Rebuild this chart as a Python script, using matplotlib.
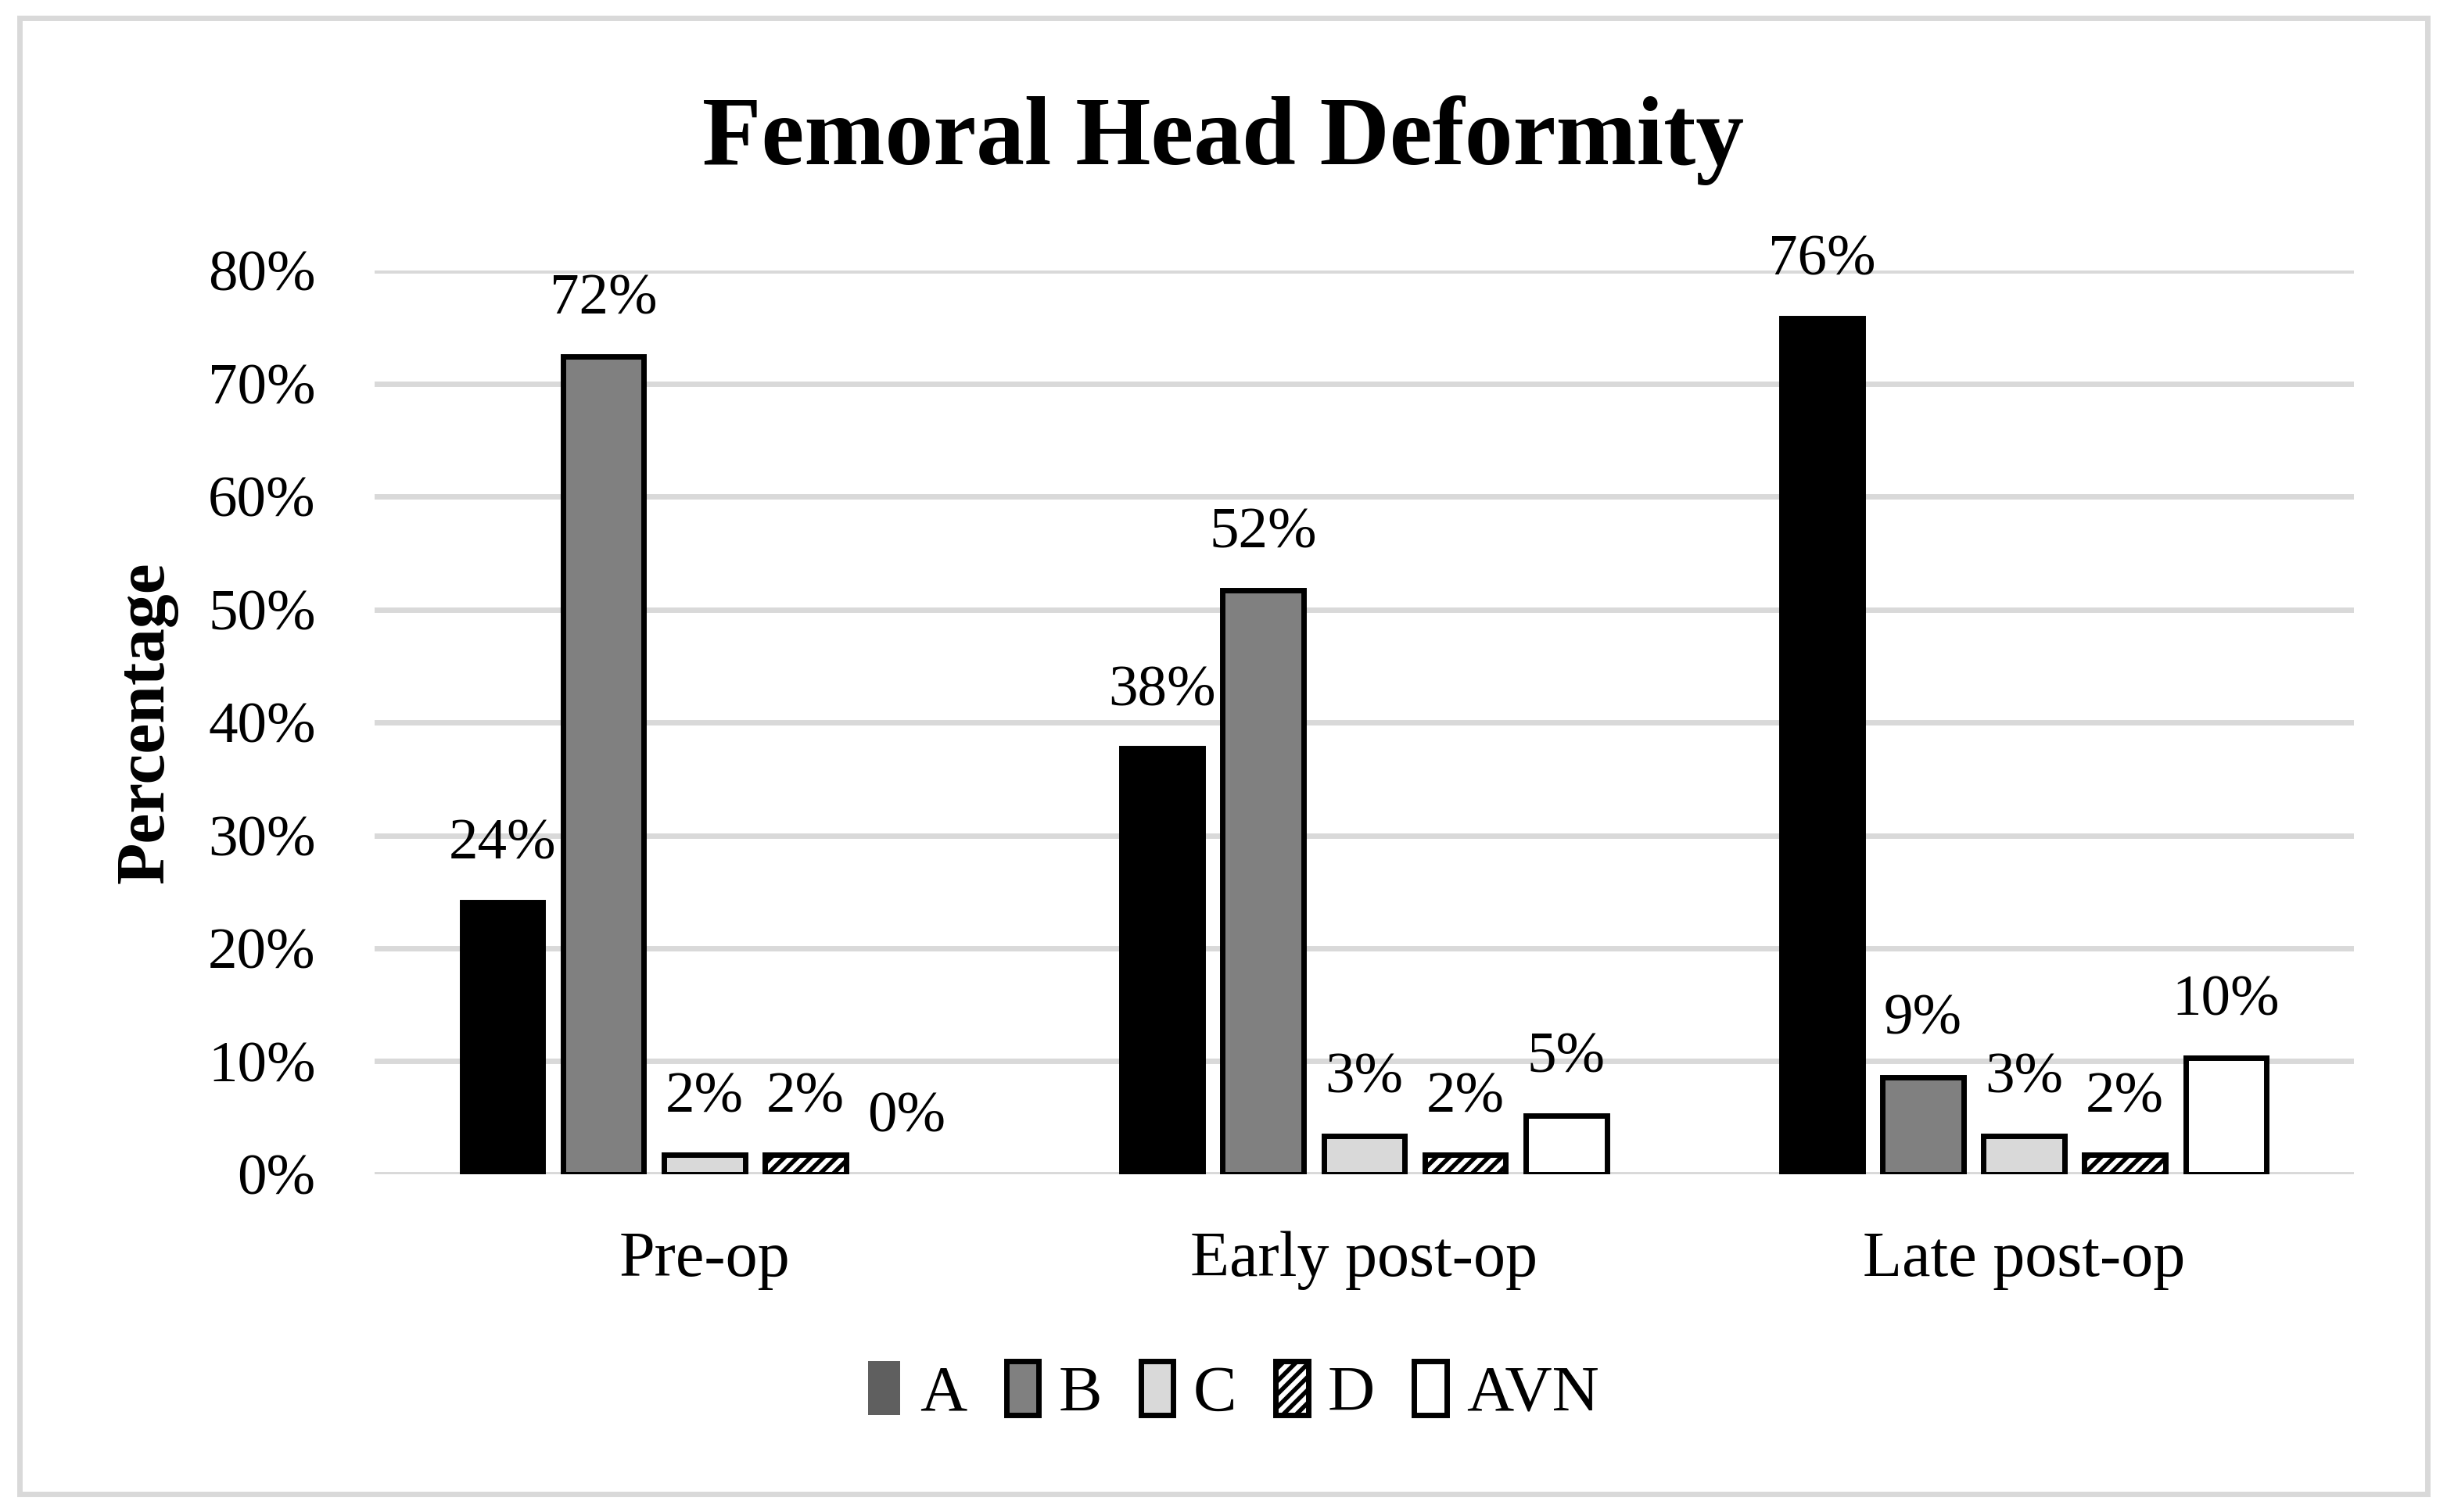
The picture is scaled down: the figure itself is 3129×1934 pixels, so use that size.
import matplotlib
matplotlib.use('Agg')
import matplotlib.pyplot as plt
from matplotlib.patches import Patch, Rectangle
import numpy as np

plt.rcParams['font.family'] = ['Liberation Serif', 'DejaVu Serif']
plt.rcParams['hatch.linewidth'] = 2.0

categories = ['Pre-op', 'Early post-op', 'Late post-op']
series = ['A', 'B', 'C', 'D', 'AVN']
vals_a = [24.1, 37.7, 75.8]
vals_b = [72.4, 51.7, 8.6]
vals_c = [1.7, 3.4, 3.4]
vals_d = [1.7, 1.7, 1.7]
vals_avn = [0.0, 5.2, 10.3]
labels_a = ['24%', '38%', '76%']
labels_b = ['72%', '52%', '9%']
labels_c = ['2%', '3%', '3%']
labels_d = ['2%', '2%', '2%']
labels_avn = ['0%', '5%', '10%']
y_ticks = [0, 10, 20, 30, 40, 50, 60, 70, 80]

all_vals = [vals_a, vals_b, vals_c, vals_d, vals_avn]
all_labels = [labels_a, labels_b, labels_c, labels_d, labels_avn]
faces = ['#000000', '#808080', '#d9d9d9', '#ffffff', '#ffffff']
hatches = [None, None, None, '////', None]
legend_faces = ['#5f5f5f', '#808080', '#d9d9d9', '#ffffff', '#ffffff']

fig = plt.figure(figsize=(15.645, 9.67), dpi=200)
ax = fig.add_axes([0.153, 0.2234, 0.809, 0.5976])

x = np.arange(len(categories))
width = 0.123
pitch = 0.153
for k in range(len(series)):
    pos = x + (k - 2) * pitch
    bars = ax.bar(pos, all_vals[k], width, color=faces[k], edgecolor='black',
                  linewidth=2.5, hatch=hatches[k], zorder=3)
    for b, lab in zip(bars, all_labels[k]):
        if b.get_height() == 0:
            b.set_visible(False)
        ax.annotate(lab, (b.get_x() + b.get_width() / 2, b.get_height()),
                    xytext=(0, 14), textcoords='offset points',
                    ha='center', va='bottom', fontsize=27)

ax.set_xlim(-0.5, 2.5)
ax.set_ylim(0, 80)
ax.set_yticks(y_ticks)
ax.set_yticklabels([f'{t}%' for t in y_ticks], fontsize=27)
ax.set_xticks(x)
ax.set_xticklabels(categories, fontsize=29.5)
ax.tick_params(axis='both', length=0)
ax.tick_params(axis='y', pad=27)
ax.tick_params(axis='x', pad=26)
ax.yaxis.grid(True, color='#d9d9d9', linewidth=2.5, zorder=0)
ax.set_axisbelow(True)
for s in ax.spines.values():
    s.set_visible(False)
ax.set_ylabel('Percentage', fontsize=31.5, fontweight='bold', labelpad=14)

fig.text(0.5, 0.907, 'Femoral Head Deformity', ha='center', va='center',
         fontsize=44.5, fontweight='bold')

handles = []
for k in range(len(series)):
    ec = 'none' if k == 0 else 'black'
    handles.append(Patch(facecolor=legend_faces[k], edgecolor=ec, linewidth=2.5,
                         hatch=hatches[k], label=series[k]))
fig.legend(handles=handles, loc='center', bbox_to_anchor=(0.504, 0.079), ncol=5,
           frameon=False, fontsize=30, handlelength=0.5, handleheight=0.9,
           handletextpad=0.3, columnspacing=0.6)

fig.patches.append(Rectangle((0.008, 0.012), 0.984, 0.976, transform=fig.transFigure,
                             fill=False, edgecolor='#d9d9d9', linewidth=2.5))

fig.savefig('out.png', dpi=200)
